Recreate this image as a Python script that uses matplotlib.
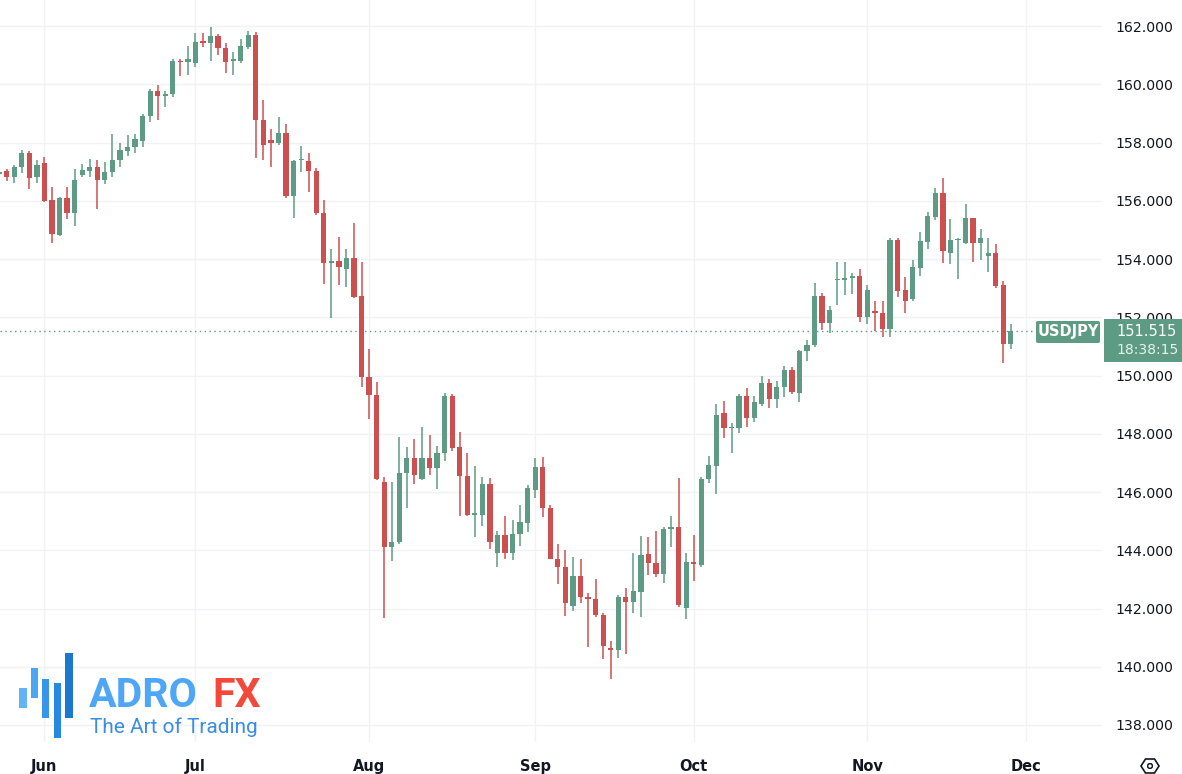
import numpy as np
import pandas as pd
import matplotlib.pyplot as plt
from matplotlib.patches import Rectangle, FancyBboxPatch, Polygon, Circle

# USDJPY daily candles, 24 May 2024 .. 28 Nov 2024
start_date = '2024-05-24'
end_date = '2024-11-28'

opens = [156.93, 157.01, 156.83, 157.17, 157.65, 156.80,
         157.29, 156.03, 154.82, 156.09, 155.59, 156.88, 157.03, 157.15, 156.71, 157.00,
         157.40, 157.72, 157.86, 158.06, 158.92, 159.77, 159.60, 159.67, 160.81, 160.75,
         160.72, 161.48, 161.43, 161.67, 161.23, 160.81, 160.81, 161.29, 161.69, 158.77,
         158.09, 157.99, 158.32, 156.17, 157.40, 157.38, 157.02, 155.57, 153.85, 153.94,
         153.67, 154.03, 152.73,
         149.94, 149.33, 146.33, 144.12, 144.27, 146.64, 147.18, 146.44, 147.18, 146.81,
         147.33, 149.31, 147.55, 146.56, 145.22, 145.21, 146.27, 143.92, 144.52, 143.92,
         144.55, 144.95,
         146.07, 146.85, 145.44, 143.70, 143.41, 142.10, 143.13, 142.38, 142.32, 141.78,
         140.63, 140.58, 142.38, 142.23, 142.58, 143.87, 143.55, 143.18, 144.74, 144.79,
         142.01,
         143.60, 143.49, 146.45, 146.90, 148.70, 148.20, 148.20, 149.30, 148.55, 149.01,
         149.73, 149.18, 149.62, 150.19, 149.41, 150.84, 151.05, 152.74, 151.81, 153.28,
         153.28, 153.36, 153.42,
         152.02, 152.23, 152.14, 151.60, 154.65, 152.94, 152.62, 153.70, 154.59, 155.45,
         156.26, 154.21, 154.65, 154.56, 155.40, 154.54, 154.10, 154.20, 153.11, 151.07]

highs = [157.05, 157.08, 157.24, 157.74, 157.72, 157.40,
         157.51, 156.48, 156.14, 156.46, 157.08, 157.25, 157.42, 157.40, 157.34, 158.29,
         157.97, 158.26, 158.29, 158.98, 159.84, 159.97, 159.77, 160.87, 160.85, 161.31,
         161.75, 161.75, 161.98, 161.72, 161.40, 161.12, 161.54, 161.83, 161.80, 159.46,
         158.45, 158.87, 158.62, 157.40, 157.88, 157.63, 157.11, 156.03, 154.33, 154.77,
         154.35, 155.25, 153.89,
         150.90, 149.77, 146.53, 146.33, 147.90, 147.53, 147.82, 148.24, 147.96, 147.59,
         149.41, 149.36, 148.07, 147.33, 146.89, 146.50, 146.47, 144.66, 145.18, 145.04,
         145.55, 146.24,
         147.16, 147.19, 145.55, 144.21, 144.01, 143.78, 143.70, 142.52, 143.01, 141.86,
         140.88, 142.46, 142.69, 143.92, 144.49, 144.44, 144.67, 144.81, 145.19, 146.47,
         143.89,
         144.51, 146.53, 147.24, 149.01, 149.12, 148.38, 149.36, 149.56, 149.30, 149.98,
         149.87, 149.81, 150.33, 150.28, 150.88, 151.22, 153.19, 152.82, 152.39, 153.90,
         153.90, 153.53, 153.66,
         153.11, 152.56, 152.56, 154.71, 154.71, 153.37, 153.97, 154.93, 155.62, 156.43,
         156.77, 155.37, 154.73, 155.89, 155.40, 155.03, 154.73, 154.50, 153.25, 151.76]

lows = [156.85, 156.69, 156.62, 156.94, 156.41, 156.60,
        155.97, 154.56, 154.79, 155.38, 155.13, 156.83, 156.83, 155.72, 156.58, 156.83,
        157.17, 157.54, 157.63, 157.83, 158.69, 158.77, 159.23, 159.55, 160.29, 160.32,
        160.60, 161.29, 160.81, 161.00, 160.38, 160.32, 160.74, 161.20, 157.46, 157.40,
        157.17, 157.90, 156.08, 155.40, 157.00, 156.31, 155.50, 153.13, 151.96, 153.11,
        153.05, 152.65, 149.62,
        148.51, 146.40, 141.68, 143.63, 144.20, 145.44, 146.27, 146.40, 146.58, 146.09,
        147.06, 147.40, 145.19, 145.19, 144.44, 144.83, 144.04, 143.44, 143.69, 143.66,
        144.16, 144.64,
        145.78, 145.13, 143.70, 142.84, 141.75, 141.92, 142.18, 140.69, 141.72, 140.26,
        139.57, 140.31, 140.43, 141.86, 141.72, 143.15, 143.09, 142.89, 144.10, 142.06,
        141.63,
        142.95, 143.44, 146.30, 145.92, 147.84, 147.35, 148.01, 148.24, 148.41, 148.95,
        148.87, 148.87, 149.25, 149.36, 149.10, 150.51, 150.99, 151.56, 151.45, 152.42,
        152.76, 152.80, 151.85,
        151.77, 151.53, 151.33, 151.31, 152.71, 152.16, 152.57, 153.42, 154.34, 155.34,
        153.87, 153.83, 153.30, 154.51, 153.91, 153.97, 153.56, 152.99, 150.44, 150.91]

closes = [156.98, 156.83, 157.17, 157.63, 156.79, 157.24,
          156.00, 154.85, 156.09, 155.59, 156.71, 157.05, 157.15, 156.71, 157.00, 157.40,
          157.74, 157.86, 158.11, 158.92, 159.78, 159.60, 159.67, 160.81, 160.75, 160.86,
          161.45, 161.43, 161.66, 161.23, 160.77, 160.84, 161.31, 161.69, 158.77, 157.91,
          157.99, 158.32, 156.17, 157.37, 157.44, 157.02, 155.57, 153.85, 153.94, 153.74,
          154.03, 152.71, 149.96,
          149.33, 146.45, 144.12, 144.27, 146.64, 147.18, 146.58, 147.18, 146.81, 147.33,
          149.31, 147.52, 146.56, 145.21, 145.27, 146.27, 144.29, 144.52, 143.89, 144.56,
          144.96, 146.13,
          146.85, 145.44, 143.70, 143.41, 142.20, 143.13, 142.41, 142.33, 141.78, 140.72,
          140.58, 142.38, 142.23, 142.60, 143.84, 143.55, 143.18, 144.73, 144.79, 142.12,
          143.60,
          143.52, 146.45, 146.93, 148.64, 148.19, 148.24, 149.30, 148.55, 149.08, 149.73,
          149.18, 149.62, 150.19, 149.44, 150.84, 151.05, 152.73, 151.81, 152.25, 153.32,
          153.36, 153.42, 152.02,
          152.94, 152.16, 151.60, 154.65, 152.91, 152.57, 153.71, 154.62, 155.48, 156.28,
          154.27, 154.65, 154.69, 155.40, 154.54, 154.73, 154.20, 153.07, 151.07, 151.52]

last_price = 151.515
price_ticks = list(range(138, 163, 2))
symbol = 'USDJPY'
countdown = '18:38:15'

W, H = 1182, 774
up_col = '#5d9b84'
dn_col = '#cd5050'
grid_col = '#f0f2f5'
text_col = '#131722'

dates = pd.bdate_range(start_date, end_date)
x = np.arange(len(dates))

fig = plt.figure(figsize=(W / 100, H / 100), dpi=100)
fig.patch.set_facecolor('white')


def fx(px):
    return px / W


def fy(py):
    return 1 - py / H


ax = fig.add_axes([0, fy(742), fx(1102), fy(0) - fy(742)])
for s in ax.spines.values():
    s.set_visible(False)

for i in range(len(dates)):
    o, h, l, c = opens[i], highs[i], lows[i], closes[i]
    col = up_col if c >= o else dn_col
    ax.vlines(x[i], l, h, color=col, lw=1.1, zorder=3)
    body = max(abs(c - o), 0.045)
    ax.bar(x[i], body, bottom=min(o, c), width=0.7, color=col, zorder=4,
           linewidth=0)

# month ticks (first trading day of each month, plus Dec 2)
all_days = pd.bdate_range(start_date, '2024-12-02')
mpos, mlab = [], []
for i in range(1, len(all_days)):
    if all_days[i].month != all_days[i - 1].month:
        mpos.append(i)
        mlab.append(all_days[i].strftime('%b'))
ax.set_xticks(mpos)
ax.set_xticklabels(mlab)
ax.tick_params(axis='x', length=0, pad=12, labelsize=10.5, labelcolor=text_col)
for t in ax.get_xticklabels():
    t.set_fontweight('bold')

ax.yaxis.tick_right()
ax.set_yticks(price_ticks)
ax.set_yticklabels([f'{p:.3f}' for p in price_ticks])
ax.tick_params(axis='y', length=0, pad=10, labelsize=10.2, labelcolor=text_col)

ax.grid(True, color=grid_col, lw=1, zorder=0)
ax.set_axisbelow(True)

left = 1 - 6.7 / 7.55
ax.set_xlim(left, left + 1102 / 7.55)
ax.set_ylim(162 - 716 / 29.125, 162 + 26 / 29.125)

ax.axhline(last_price, xmin=0, xmax=1035 / 1102, color=up_col, lw=1,
           linestyle=(0, (1, 2.5)), zorder=2)

# symbol tag and price box
fig.patches.append(FancyBboxPatch((fx(1036), fy(343)), fx(1100) - fx(1036), fy(321) - fy(343),
                                  boxstyle='round,pad=0,rounding_size=0.002',
                                  transform=fig.transFigure, facecolor=up_col,
                                  edgecolor='none', zorder=5))
fig.text(fx(1068), fy(332), symbol, color='white', fontsize=10.5, fontweight='semibold',
         ha='center', va='center', zorder=6)
fig.patches.append(Rectangle((fx(1104), fy(362)), fx(1182) - fx(1104), fy(319) - fy(362),
                             transform=fig.transFigure, facecolor=up_col,
                             edgecolor='none', zorder=5))
fig.text(fx(1116), fy(331), f'{last_price:.3f}', color='white', fontsize=10.5,
         ha='left', va='center', zorder=6)
fig.text(fx(1116), fy(350), countdown, color='#e8f2ee', fontsize=10,
         ha='left', va='center', zorder=6)

# small settings icon bottom right
hx, hy = 1150, 766
hex_pts = [(hx - 9, hy), (hx - 4.5, hy - 7), (hx + 4.5, hy - 7),
           (hx + 9, hy), (hx + 4.5, hy + 7), (hx - 4.5, hy + 7)]
fig.patches.append(Polygon([(fx(a), fy(b)) for a, b in hex_pts], closed=True,
                           transform=fig.transFigure, fill=False,
                           edgecolor=text_col, lw=1.2))
ax_icon = fig.add_axes([fx(hx - 3), fy(hy + 3), fx(6), 6 / H])
ax_icon.add_patch(Circle((0.5, 0.5), 0.4, fill=False, edgecolor=text_col, lw=1.1))
ax_icon.set_xlim(0, 1)
ax_icon.set_ylim(0, 1)
ax_icon.axis('off')

# logo
bar_cols = ['#63b3f7', '#4aa5f2', '#3596ea', '#2688df', '#1b77cf']
bar_ext = [(19, 27, 688, 708), (31, 38, 668, 698), (42, 49, 679, 718),
           (54, 61, 683, 738), (65, 73, 653, 718)]
for (x0, x1, y0, y1), bc in zip(bar_ext, bar_cols):
    fig.patches.append(Rectangle((fx(x0), fy(y1)), fx(x1 - x0), (y1 - y0) / H,
                                 transform=fig.transFigure, facecolor=bc,
                                 edgecolor='none', zorder=5))
fig.text(fx(89), fy(707), 'ADRO', family='Roboto', fontweight='bold', fontsize=29.5,
         color='#4ea6f6', ha='left', va='baseline', zorder=6)
fig.text(fx(212), fy(707), 'FX', family='Roboto', fontweight='bold', fontsize=29.5,
         color='#f2493a', ha='left', va='baseline', zorder=6)
fig.text(fx(90), fy(733), 'The Art of Trading', family='Roboto', fontweight='normal',
         fontsize=15, color='#3a8de3', ha='left', va='baseline', zorder=6)

fig.savefig('out.png', dpi=100)
